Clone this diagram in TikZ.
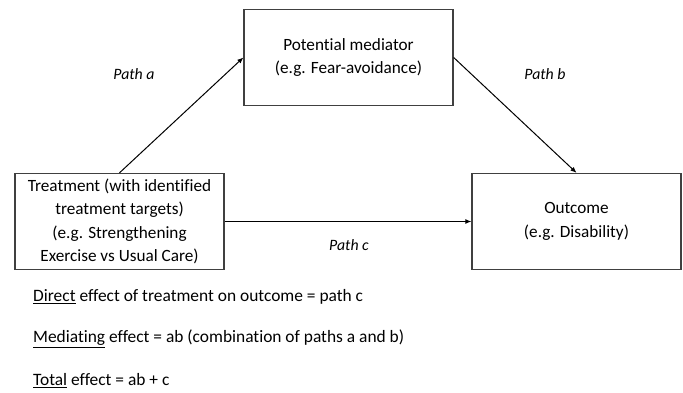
\documentclass[tikz,border=0pt]{standalone}
\usepackage{fontspec}
\setmainfont{Carlito}[Ligatures=NoCommon]
\usetikzlibrary{arrows.meta}
\begin{document}
\begin{tikzpicture}[x=1pt,y=-1pt,
  box/.style={draw=black!75,line width=1.3pt,minimum width=209pt,minimum height=96pt,align=center,font=\fontsize{17.2}{23.3}\selectfont,inner sep=0pt},
  conn/.style={line width=1pt,-{Latex[length=6pt,width=5pt]}},
  lab/.style={font=\fontsize{15.8}{18}\selectfont\itshape},
  txt/.style={anchor=west,font=\fontsize{17.4}{20}\selectfont,inner sep=0pt}]
\useasboundingbox (0,0) rectangle (683,393);
\node[box] (med) at (348.5,57.5) {Potential mediator\\(e.g. Fear-avoidance)};
\node[box] (treat) at (119.5,221.5) {Treatment (with identified\\treatment targets)\\(e.g. Strengthening\\Exercise vs Usual Care)};
\node[box] (out) at (576.5,221.5) {Outcome\\(e.g. Disability)};
\draw[conn] (treat.north) -- (med.west);
\draw[conn] (med.east) -- (out.north);
\draw[conn] (treat.east) -- (out.west);
\node[lab] (pa) at (134,74) {Path a};
\node[lab] (pb) at (545,74) {Path b};
\node[lab] (pc) at (349,245) {Path c};
\node[txt] (t1) at (33,297) {\underline{Direct} effect of treatment on outcome = path c};
\node[txt] (t2) at (33,339) {\underline{Mediating} effect = ab (combination of paths a and b)};
\node[txt] (t3) at (33,381) {\underline{Total} effect = ab + c};
\end{tikzpicture}
\end{document}
